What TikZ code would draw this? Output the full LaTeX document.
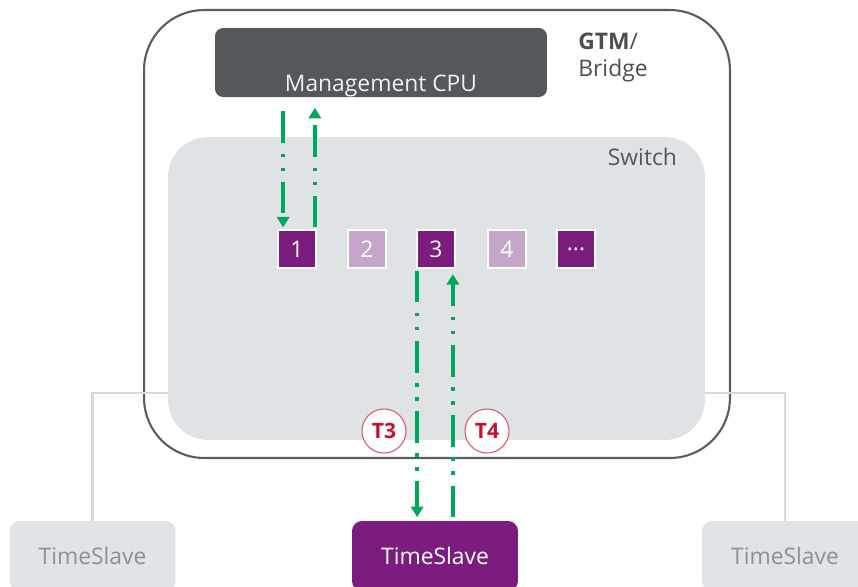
\documentclass[tikz,border=0pt]{standalone}
\usepackage{fontspec}
\setmainfont{Open Sans}
\usetikzlibrary{positioning,arrows.meta}

\definecolor{cpugray}{HTML}{54585A}
\definecolor{swgray}{HTML}{DFE3E6}
\definecolor{portdark}{HTML}{7D1C7F}
\definecolor{portlight}{HTML}{C4A6C9}
\definecolor{syncgreen}{HTML}{00A85A}
\definecolor{tsred}{HTML}{C8102E}
\definecolor{slavegray}{HTML}{E1E4E7}
\definecolor{slavetext}{HTML}{8C9195}
\definecolor{framegray}{HTML}{5A5C5E}
\definecolor{linkgray}{HTML}{D6DADD}

\begin{document}
\begin{tikzpicture}[x=0.02cm, y=-0.02cm, font=\fontsize{13}{15}\selectfont,
    port/.style={draw=white, line width=1pt, minimum size=0.76cm, inner sep=0pt, text=white},
    flow/.style={draw=syncgreen, line width=2pt, -{Triangle[width=7pt,length=6pt]},
                 dash pattern=on 18pt off 6pt on 2pt off 6pt on 2pt off 6pt},
    stamp/.style={circle, draw=tsred!70, fill=white, line width=0.6pt, minimum size=0.88cm,
                  inner sep=0pt, text=tsred, font=\fontsize{12}{14}\selectfont\bfseries},
    slave/.style={rounded corners=0.2cm, minimum width=3.32cm, minimum height=1.4cm, inner sep=0pt},
    link/.style={draw=linkgray, line width=1.2pt}]
    \clip (0,0) rectangle (858,586);

    % 1. GTM / Bridge
    \node[draw=framegray, line width=1.2pt, rounded corners=1.2cm, minimum width=11.72cm,
          minimum height=8.96cm, inner sep=0pt] (gtm) at (437,234) {};
    \node[anchor=north west, align=left, text=framegray!85!black, inner sep=0pt] (gtmlabel) at (578,33)
        {\textbf{GTM}/\\Bridge};
    \node[fill=cpugray, rounded corners=0.16cm, minimum width=6.64cm, minimum height=1.38cm,
          inner sep=0pt] (cpu) at (381,62.5) {};
    \node[text=white!92!cpugray, anchor=south] (cpulabel) at ([yshift=-0.12cm]cpu.south) {Management CPU};

    % 2. Switch
    \node[fill=swgray, rounded corners=0.8cm, minimum width=10.74cm, minimum height=6.06cm,
          inner sep=0pt] (switch) at (436.5,288.5) {};
    \node[anchor=north east, text=cpugray, inner sep=0pt] (swlabel) at ([xshift=-0.56cm,yshift=-0.22cm]switch.north east) {Switch};

    \node[port, fill=portdark] (p1) at (297,249) {1};
    \node[port, fill=portlight] (p2) at (367,249) {2};
    \node[port, fill=portdark] (p3) at (436,249) {3};
    \node[port, fill=portlight] (p4) at (507,249) {4};
    \node[port, fill=portdark] (p5) at (576,249) {...};

    % 3. TimeSlaves
    \node[slave, fill=slavegray, text=slavetext] (sl) at (92.5,556) {TimeSlave};
    \node[slave, fill=portdark, text=white] (sm) at (435,556) {TimeSlave};
    \node[slave, fill=slavegray, text=slavetext] (sr) at (785,556) {TimeSlave};

    \coordinate (jl) at (sl.north |- 0,393);
    \coordinate (jr) at (sr.north |- 0,393);
    \draw[link] (sl.north) -- (jl) -- (jl -| switch.west);
    \draw[link] (sr.north) -- (jr) -- (jr -| switch.east);

    % 4. sync messages
    \draw[flow, shorten <=8pt, shorten >=1pt] ([xshift=0.12cm]p1.north west |- cpu.south) -- ([xshift=0.12cm]p1.north west);
    \draw[flow, shorten <=1pt, shorten >=6pt] ([xshift=-0.04cm]p1.north east) -- ([xshift=-0.04cm]p1.north east |- cpu.south);
    \draw[flow, shorten <=1pt, shorten >=2pt] ([xshift=0.02cm]p3.south west) -- ([xshift=0.02cm]p3.south west |- sm.north);
    \draw[flow, shorten <=2pt, shorten >=3pt] ([xshift=-0.06cm]p3.south east |- sm.north) -- ([xshift=-0.06cm]p3.south east);

    \node[stamp] (t3) at (384,431) {T3};
    \node[stamp] (t4) at (487,431) {T4};
\end{tikzpicture}
\end{document}
